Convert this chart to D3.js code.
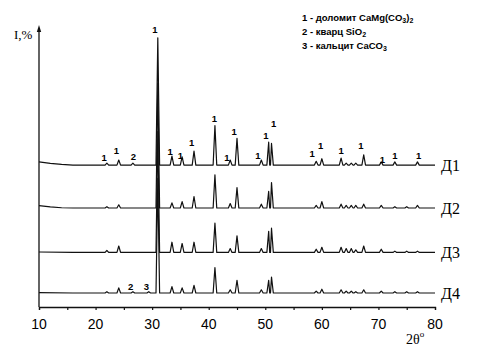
<!DOCTYPE html>
<html>
<head>
<meta charset="utf-8">
<script src="https://cdn.jsdelivr.net/npm/d3@7"></script>
<style>
  body { margin: 0; background: #fff; }
  svg { display: block; }
  .tick-label { font-family: "Liberation Sans", Arial, sans-serif; font-size: 14px; }
  .serif { font-family: "Liberation Serif", "Times New Roman", serif; }
  .lbl { font-family: "Liberation Sans", Arial, sans-serif; font-size: 9.5px; font-weight: bold; }
</style>
</head>
<body>
<svg id="chart" width="482" height="348"></svg>
<script>
// peak positions, 2theta (deg), shared by all samples
const peakPos = [22.0, 24.1, 26.6, 29.4, 31.0, 33.5, 35.3, 37.4, 41.1, 43.8, 45.0, 49.3, 50.6, 51.1,
                 59.0, 60.0, 63.4, 64.3, 65.2, 66.0, 67.4, 70.5, 72.9, 75.0, 76.9];

// peak intensities, I %, one per peakPos entry
const heightsD1 = [1.5, 4, 1.5, 0, 100, 7, 6.5, 11, 31, 4, 21, 4, 18, 17,
                   3, 5, 5.5, 1.5, 1.5, 1.5, 8, 2.5, 2.5, 0, 2.5];
const heightsD2 = [1, 2.5, 0, 0, 98, 4, 5, 9, 26, 3.5, 16, 3, 13, 20,
                   2, 5, 3, 2, 2, 2, 3, 2, 1, 1, 2];
const heightsD3 = [1.5, 5, 0, 0, 95, 8, 7, 8, 23, 3, 13, 3, 16.5, 19,
                   2.5, 4, 4, 3, 3, 2, 5, 2.5, 1, 1, 1];
const heightsD4 = [1, 4, 1, 1, 90, 5, 4, 6, 20, 2.5, 10, 2.5, 10, 12.5,
                   1.5, 3, 2.5, 1.5, 1.5, 1, 2.5, 1.5, 1, 1, 1];

// low-angle background [2theta, I]
const bgD1 = [[10, 2.6], [12, 1.4], [14, 0.5], [16, 0]];
const bgD2 = [[10, 1.8], [12, 0.8], [14, 0.2], [16, 0]];
const bgD3 = [[10, 0.3], [16, 0]];
const bgD4 = [[10, 0.3], [16, 0]];

// vertical shift of each pattern, I %
const offsets = [111.5, 77.8, 42.9, 11];
const sampleNames = ["Д1", "Д2", "Д3", "Д4"];

// phase labels [2theta, I, text]
const labelsD1 = [[21.5, 117.5, "1"], [23.7, 123, "1"], [26.7, 118.5, "2"], [30.5, 218, "1"],
                  [33.2, 122, "1"], [35.0, 119, "1"], [37.0, 129, "1"], [41.0, 148.5, "1"],
                  [43.2, 117.5, "1"], [44.5, 138, "1"], [48.7, 119, "1"], [50.1, 135, "1"],
                  [51.5, 144, "1"], [58.3, 121, "1"], [59.8, 127, "1"], [63.4, 123, "1"],
                  [66.9, 127, "1"], [70.7, 116, "1"], [72.9, 119, "1"], [77.1, 119, "1"]];
const labelsD4 = [[26.2, 16.5, "2"], [29.0, 16.5, "3"]];

const legendLines = [
  ["1 - доломит CaMg(CO", "3", ")", "2"],
  ["2 - кварц SiO", "2"],
  ["3 - кальцит CaCO", "3"]
];

const xTicks = [10, 20, 30, 40, 50, 60, 70, 80];

const svg = d3.select("#chart");
const x = d3.scaleLinear().domain([10, 80]).range([39, 435]);
const y = d3.scaleLinear().domain([0, 220]).range([307, 27]);

const halfW = 0.32;

function buildPoints(bg, heights, off) {
  let pts = bg.map(d => [d[0], d[1] + off]);
  peakPos.forEach((p, i) => {
    const h = heights[i];
    if (h <= 0) return;
    pts.push([p - halfW, off], [p, h + off], [p + halfW, off]);
  });
  pts.push([80, off]);
  pts.sort((a, b) => a[0] - b[0]);
  return pts;
}

const series = [
  buildPoints(bgD1, heightsD1, offsets[0]),
  buildPoints(bgD2, heightsD2, offsets[1]),
  buildPoints(bgD3, heightsD3, offsets[2]),
  buildPoints(bgD4, heightsD4, offsets[3])
];

const line = d3.line().x(d => x(d[0])).y(d => y(d[1]));

svg.append("g").selectAll("path")
  .data(series)
  .join("path")
  .attr("d", line)
  .attr("fill", "none")
  .attr("stroke", "#111")
  .attr("stroke-width", 1.2)
  .attr("stroke-linejoin", "round");

// x axis
const xAxis = d3.axisBottom(x).tickValues(d3.range(10, 81, 5)).tickSize(3).tickFormat("");
const gx = svg.append("g").attr("transform", `translate(0,${y(0)})`).call(xAxis);
gx.select(".domain").attr("stroke", "#111").attr("stroke-width", 1.3);
gx.selectAll(".tick line").attr("stroke", "#111").attr("stroke-width", 1.2);

svg.append("g").selectAll("text")
  .data(xTicks)
  .join("text")
  .attr("class", "tick-label")
  .attr("x", d => x(d))
  .attr("y", 329)
  .attr("text-anchor", "middle")
  .text(d => d);

// y axis with arrow
svg.append("line")
  .attr("x1", x(10)).attr("x2", x(10))
  .attr("y1", y(0)).attr("y2", y(220) + 2)
  .attr("stroke", "#111").attr("stroke-width", 1.3);
svg.append("path")
  .attr("d", `M${x(10)},${y(220) - 2} l-2.2,7 l4.4,0 z`)
  .attr("fill", "#111");

svg.append("text").attr("class", "serif")
  .attr("x", 14).attr("y", 39)
  .attr("font-size", 13)
  .text("I,%");

const ax = svg.append("text").attr("class", "serif")
  .attr("x", 406).attr("y", 344)
  .attr("font-size", 14);
ax.append("tspan").text("2θ");
ax.append("tspan").attr("dy", -7).attr("font-size", 9).text("o");

// sample names
svg.append("g").selectAll("text")
  .data(sampleNames)
  .join("text")
  .attr("class", "serif")
  .attr("x", 441)
  .attr("y", (d, i) => y(offsets[i]) + 6)
  .attr("font-size", 16)
  .text(d => d);

// phase labels
svg.append("g").selectAll("text")
  .data(labelsD1.concat(labelsD4))
  .join("text")
  .attr("class", "lbl")
  .attr("x", d => x(d[0]))
  .attr("y", d => y(d[1]) + 3.5)
  .attr("text-anchor", "middle")
  .text(d => d[2]);

// legend
const leg = svg.append("g").attr("class", "lbl");
legendLines.forEach((parts, i) => {
  const t = leg.append("text").attr("x", 302).attr("y", 21 + i * 14);
  parts.forEach((p, j) => {
    const isSub = /^[0-9]$/.test(p) && j > 0;
    t.append("tspan")
      .attr("font-size", isSub ? 7 : 9.5)
      .attr("dy", isSub ? 2 : (j > 0 ? -2 : 0))
      .text(p);
  });
});
</script>
</body>
</html>
